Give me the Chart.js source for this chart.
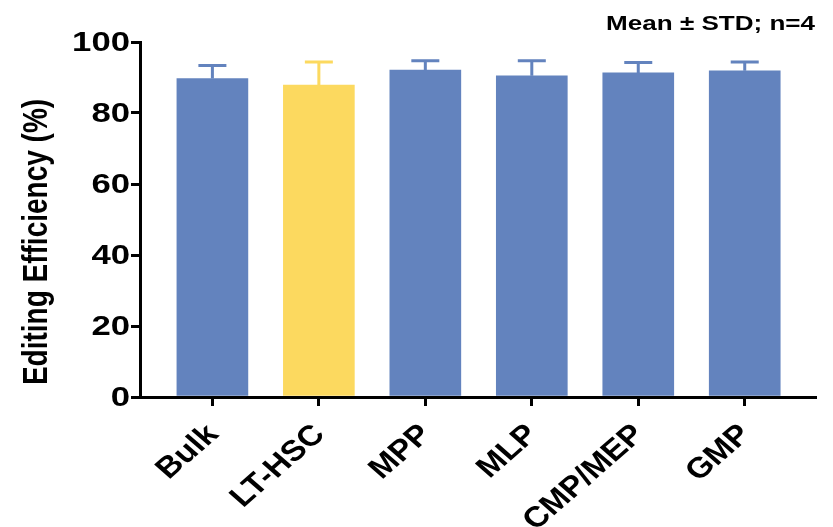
<!DOCTYPE html>
<html>
<head>
<meta charset="utf-8">
<script src="https://cdn.jsdelivr.net/npm/chart.js@4.4.1/dist/chart.umd.min.js"></script>
<style>
  html, body { margin: 0; padding: 0; background: #ffffff; }
  #wrap { width: 833px; height: 527px; }
</style>
</head>
<body>
<div id="wrap"><canvas id="chart" width="833" height="527"></canvas></div>
<script>
// Cell populations
const categories = ['Bulk', 'LT-HSC', 'MPP', 'MLP', 'CMP/MEP', 'GMP'];
// Editing efficiency, mean and standard deviation (%)
const meanValues = [89.7, 87.9, 92.1, 90.5, 91.3, 91.9];
const stdValues = [3.7, 6.5, 2.6, 4.2, 2.9, 2.5];
const yTicks = [0, 20, 40, 60, 80, 100];
const yTitle = 'Editing Efficiency (%)';
const noteText = 'Mean \u00b1 STD; n=4';

const BLUE = '#6383be';
const YELLOW = '#fcd95f';
const barColors = categories.map(c => c === 'LT-HSC' ? YELLOW : BLUE);
const FONT = '"Liberation Sans", Arial, Helvetica, sans-serif';
const WIDE = 1.24;       // horizontal widening of upright lettering
const WIDE_ROT = 1.15;   // horizontal widening of slanted category labels

// Upper error bars (mean + SD) with a cap
const errorBars = {
  id: 'errorBars',
  afterDatasetsDraw(chart) {
    const ctx = chart.ctx;
    const meta = chart.getDatasetMeta(0);
    const yScale = chart.scales.y;
    ctx.save();
    ctx.lineWidth = 3;
    meta.data.forEach((bar, i) => {
      const x = bar.x;
      const yTop = yScale.getPixelForValue(meanValues[i] + stdValues[i]);
      const yBar = yScale.getPixelForValue(meanValues[i]);
      ctx.strokeStyle = barColors[i];
      ctx.beginPath();
      ctx.moveTo(x, yBar);
      ctx.lineTo(x, yTop);
      ctx.moveTo(x - 14, yTop);
      ctx.lineTo(x + 14, yTop);
      ctx.stroke();
    });
    ctx.restore();
  }
};

// Lettering: tick labels, axis title and the summary note
const lettering = {
  id: 'lettering',
  afterDraw(chart) {
    const ctx = chart.ctx;
    const xScale = chart.scales.x;
    const yScale = chart.scales.y;
    ctx.save();
    ctx.fillStyle = '#000';

    // y tick labels
    ctx.font = 'bold 28px ' + FONT;
    ctx.textAlign = 'right';
    ctx.textBaseline = 'middle';
    yTicks.forEach(v => {
      ctx.save();
      ctx.translate(130, yScale.getPixelForValue(v) + 1);
      ctx.scale(WIDE, 1);
      ctx.fillText(String(v), 0, 0);
      ctx.restore();
    });

    // x tick labels, rotated 45 degrees
    ctx.font = 'bold 29px ' + FONT;
    ctx.textAlign = 'right';
    ctx.textBaseline = 'middle';
    categories.forEach((c, i) => {
      ctx.save();
      ctx.translate(xScale.getPixelForValue(i) + 1, xScale.top + 33);
      ctx.scale(WIDE_ROT, 1);
      ctx.rotate(-Math.PI / 4);
      ctx.fillText(c, 0, 0);
      ctx.restore();
    });

    // y axis title
    ctx.save();
    ctx.font = 'bold 28px ' + FONT;
    ctx.textAlign = 'center';
    ctx.textBaseline = 'middle';
    ctx.translate(37, 242);
    ctx.scale(WIDE, 1);
    ctx.rotate(-Math.PI / 2);
    ctx.fillText(yTitle, 0, 0);
    ctx.restore();

    // summary note
    ctx.save();
    ctx.font = 'bold 21px ' + FONT;
    ctx.textAlign = 'right';
    ctx.textBaseline = 'middle';
    ctx.translate(815, 24);
    ctx.scale(WIDE, 1);
    ctx.fillText(noteText, 0, 0);
    ctx.restore();

    ctx.restore();
  }
};

new Chart(document.getElementById('chart'), {
  type: 'bar',
  data: {
    datasets: [{
      data: meanValues.map((v, i) => ({ x: i, y: v })),
      backgroundColor: barColors,
      borderWidth: 0,
      barThickness: 71
    }]
  },
  options: {
    responsive: false,
    animation: false,
    layout: { padding: { top: 42, right: 18, left: 0, bottom: 0 } },
    plugins: {
      legend: { display: false },
      tooltip: { enabled: false }
    },
    scales: {
      x: {
        type: 'linear',
        min: -0.68,
        max: 5.66,
        offset: false,
        afterBuildTicks(scale) {
          scale.ticks = categories.map((_, i) => ({ value: i }));
        },
        afterFit(scale) { scale.height = 130; },
        border: { display: true, color: '#000', width: 3 },
        grid: { display: true, offset: false, drawOnChartArea: false, drawTicks: true, tickLength: 9, color: '#000', lineWidth: 3 },
        ticks: { display: false, autoSkip: false }
      },
      y: {
        min: 0,
        max: 100,
        afterBuildTicks(scale) {
          scale.ticks = yTicks.map(v => ({ value: v }));
        },
        afterFit(scale) { scale.width = 140; },
        border: { display: true, color: '#000', width: 3 },
        grid: { display: true, drawOnChartArea: false, drawTicks: true, tickLength: 9, color: '#000', lineWidth: 3 },
        ticks: { display: false }
      }
    }
  },
  plugins: [errorBars, lettering]
});
</script>
</body>
</html>
